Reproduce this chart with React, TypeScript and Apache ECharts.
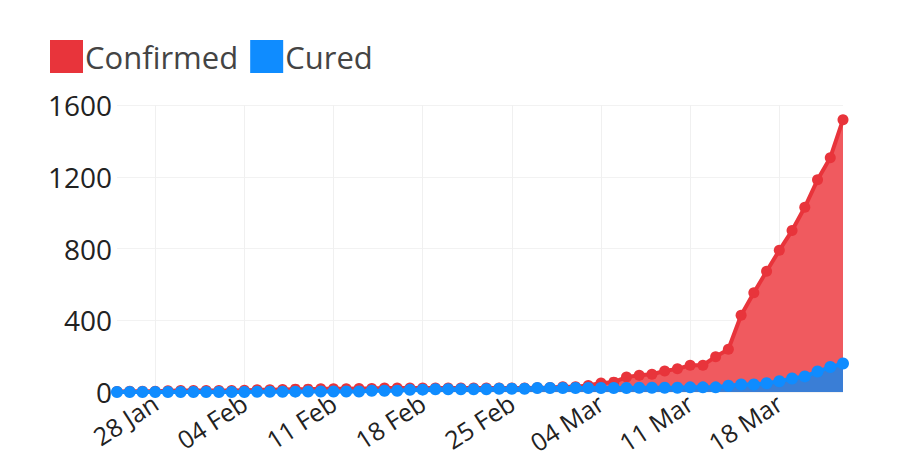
import React, { useEffect, useRef } from "react";
import * as echarts from "echarts";

const dates: string[] = [
  "25 Jan", "26 Jan", "27 Jan", "28 Jan", "29 Jan", "30 Jan", "31 Jan",
  "01 Feb", "02 Feb", "03 Feb", "04 Feb", "05 Feb", "06 Feb", "07 Feb",
  "08 Feb", "09 Feb", "10 Feb", "11 Feb", "12 Feb", "13 Feb", "14 Feb",
  "15 Feb", "16 Feb", "17 Feb", "18 Feb", "19 Feb", "20 Feb", "21 Feb",
  "22 Feb", "23 Feb", "24 Feb", "25 Feb", "26 Feb", "27 Feb", "28 Feb",
  "01 Mar", "02 Mar", "03 Mar", "04 Mar", "05 Mar", "06 Mar",
  "07 Mar", "08 Mar", "09 Mar", "10 Mar", "11 Mar", "12 Mar", "13 Mar",
  "14 Mar", "15 Mar", "16 Mar", "17 Mar", "18 Mar", "19 Mar", "20 Mar",
  "21 Mar", "22 Mar", "23 Mar",
];

const confirmed: number[] = [
  3, 4, 4, 4, 7, 8, 8,
  8, 8, 8, 10, 12, 12, 14,
  16, 16, 18, 18, 18, 19, 19,
  22, 22, 22, 22, 22, 22, 22,
  22, 22, 22, 22, 22, 23, 25,
  29, 29, 36, 50, 55, 83,
  93, 99, 117, 129, 149, 149, 197,
  238, 428, 553, 673, 790, 900, 1030,
  1183, 1306, 1518,
];

const cured: number[] = [
  0, 0, 0, 0, 0, 0, 0,
  0, 0, 0, 0, 1, 1, 1,
  2, 3, 3, 3, 3, 3, 7,
  7, 7, 12, 13, 15, 15, 15,
  15, 15, 18, 18, 18, 22, 22,
  22, 22, 22, 22, 22, 22,
  24, 24, 24, 24, 26, 26, 26,
  35, 42, 42, 49, 60, 75, 87,
  114, 139, 159,
];

const yTicks = { min: 0, max: 1600, interval: 400 };

export default function App() {
  const ref = useRef<HTMLDivElement>(null);
  useEffect(() => {
    if (!ref.current) return;
    const chart = echarts.init(ref.current, undefined, { renderer: "svg" });
    const showIdx = (i: number) => i >= 3 && (i - 3) % 7 === 0;
    chart.setOption({
      animation: false,
      backgroundColor: "#ffffff",
      textStyle: { fontFamily: "Open Sans" },
      legend: {
        left: 50,
        top: 40,
        padding: 0,
        itemWidth: 33,
        itemHeight: 33,
        itemGap: 12,
        icon: "rect",
        textStyle: { fontSize: 31, color: "#444", fontFamily: "Open Sans", padding: [0, 0, 0, -3] },
        data: [
          { name: "Confirmed", itemStyle: { color: "#e8343b" } },
          { name: "Cured", itemStyle: { color: "#0f8cff" } },
        ],
      },
      grid: { left: 117, right: 57, top: 105, bottom: 77, containLabel: false },
      xAxis: {
        type: "category",
        data: dates,
        boundaryGap: false,
        axisLine: { show: false },
        axisTick: { show: false },
        axisLabel: {
          interval: (i: number) => showIdx(i),
          rotate: 33,
          fontSize: 25,
          color: "#222",
          margin: 8,
          fontFamily: "Open Sans",
        },
        splitLine: {
          show: true,
          interval: (i: number) => showIdx(i),
          lineStyle: { color: "#f0f0f0", width: 1 },
        },
      },
      yAxis: {
        type: "value",
        min: yTicks.min,
        max: yTicks.max,
        interval: yTicks.interval,
        axisLine: { show: false },
        axisTick: { show: false },
        axisLabel: {
          fontSize: 28,
          color: "#222",
          margin: 5,
          fontFamily: "Open Sans",
          formatter: (v: number) => String(v),
        },
        splitLine: { show: true, lineStyle: { color: "#f2f2f2", width: 1 } },
      },
      series: [
        {
          name: "Confirmed",
          type: "line",
          data: confirmed,
          symbol: "circle",
          symbolSize: 11,
          showAllSymbol: true,
          itemStyle: { color: "#e8343b" },
          lineStyle: { color: "#e8343b", width: 4 },
          areaStyle: { color: "#f05a5f", opacity: 1 },
        },
        {
          name: "Cured",
          type: "line",
          data: cured,
          symbol: "circle",
          symbolSize: 12,
          showAllSymbol: true,
          itemStyle: { color: "#0f8cff" },
          lineStyle: { color: "#0f8cff", width: 4 },
          areaStyle: { color: "#3a7ed6", opacity: 1 },
        },
      ],
    });
    return () => chart.dispose();
  }, []);
  return <div ref={ref} style={{ width: 900, height: 469, position: "absolute", left: 0, top: 0 }} />;
}
